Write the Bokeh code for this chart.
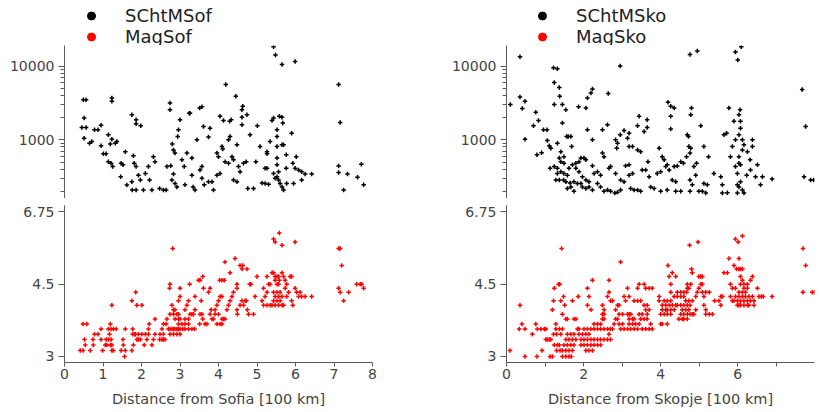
from bokeh.plotting import figure
from bokeh.layouts import row, column
from bokeh.models import Range1d, FixedTicker, Legend, LegendItem, Arrow, CustomJSTickFormatter
from bokeh.embed import file_html
from bokeh.resources import INLINE

# ---------------- data (distance in 100 km) ----------------
sof_sc_d = [0.49,0.56,0.51,0.45,0.56,0.51,0.65,0.71,0.78,0.87,
            0.95,0.95,1.01,1.08,1.14,1.23,1.19,1.23,1.23,1.14,
            1.21,1.25,1.32,1.36,1.46,1.58,1.47,1.52,1.62,1.75,
            1.75,1.86,1.86,1.98,1.79,1.81,1.86,1.92,1.76,1.86,
            2.05,1.97,2.10,2.18,2.21,2.31,2.35,2.27,2.47,2.57,
            2.64,2.66,2.76,2.74,2.74,2.80,2.83,2.87,2.79,2.87,
            2.92,2.83,2.94,2.96,3.00,3.05,3.11,3.13,3.18,3.24,
            3.26,3.31,3.31,3.34,3.39,3.44,3.51,3.57,3.61,3.52,
            3.57,3.57,3.63,3.74,3.78,3.74,3.83,3.87,3.96,4.00,
            3.96,4.04,4.04,4.13,4.09,4.11,4.17,4.26,4.19,4.26,
            4.30,4.29,4.33,4.35,4.39,4.39,4.48,4.45,4.48,4.52,
            4.56,4.65,4.72,4.61,4.63,4.61,4.61,4.74,4.82,4.76,
            4.91,5.01,4.97,5.08,5.13,5.21,5.30,5.21,5.26,5.26,
            5.26,5.34,5.39,5.43,5.43,5.48,5.52,5.52,5.52,5.52,
            5.52,5.56,5.47,5.56,5.60,5.65,5.69,5.43,5.52,5.58,
            5.65,5.67,5.65,5.65,5.69,5.76,5.76,5.77,5.90,5.93,
            5.99,6.02,5.99,6.08,6.16,6.25,5.95,6.16,6.42,7.12,
            7.16,7.12,7.12,7.25,7.35,7.61,7.71,7.77]
sof_sc_v = [3500,3500,1980,1470,1470,1050,900,950,1370,1370,
            1570,830,645,645,1170,1020,880,3700,3340,505,
            480,433,900,950,316,690,480,460,243,270,
            2190,1870,1650,1550,610,480,433,330,208,208,
            208,285,350,433,285,590,505,208,218,208,
            208,433,445,3160,2560,880,730,660,285,255,
            230,343,1110,1370,1870,535,433,245,660,2300,
            2300,330,565,230,208,1000,2700,2800,1520,390,
            433,300,245,1090,1440,270,270,208,660,590,
            330,350,2080,1830,810,750,505,480,5620,1000,
            1110,1780,1870,590,535,285,270,3900,855,433,
            370,480,505,2560,2850,2030,1600,2190,1170,218,
            218,1550,505,810,260,255,250,410,410,645,
            690,950,1830,1980,18300,14100,1110,1370,810,565,
            460,370,300,285,255,230,208,350,316,2080,
            2030,1690,10500,855,855,625,410,255,1230,480,
            11500,590,410,390,370,343,255,285,343,5620,
            1720,440,360,208,343,310,465,245]

sof_mag_d = [0.41,0.48,0.67,0.48,0.58,0.52,0.54,0.75,0.74,0.78,
             0.87,0.95,0.95,0.99,1.06,1.10,1.08,1.14,1.21,1.14,
             1.21,1.27,1.34,1.19,1.17,1.23,1.27,1.23,1.19,1.23,
             1.47,1.58,1.75,1.56,1.52,1.53,1.58,1.75,1.85,1.88,
             1.77,1.82,1.77,1.79,1.88,1.92,1.97,1.84,1.92,2.01,
             2.10,2.01,2.07,2.14,2.18,2.18,2.20,2.27,2.31,2.35,
             2.35,2.47,2.53,2.57,2.61,2.48,2.57,2.53,2.57,2.64,
             2.66,2.73,2.74,2.81,2.74,2.83,2.70,2.74,2.79,2.83,
             2.87,2.92,2.96,3.00,3.07,3.13,3.22,3.31,3.38,2.74,
             2.83,2.92,3.00,2.79,2.83,2.87,2.92,2.96,2.87,2.96,
             3.00,2.96,3.00,3.00,2.96,3.05,3.13,3.22,3.13,3.22,
             3.26,3.31,3.35,3.13,3.18,3.22,3.25,3.39,3.39,3.48,
             3.52,3.59,3.52,3.57,3.59,3.51,3.55,3.61,3.65,3.70,
             3.74,3.78,3.78,3.83,3.87,3.91,3.81,3.91,3.96,4.04,
             4.09,3.96,4.00,4.04,4.09,4.00,4.09,4.13,4.17,4.03,
             4.09,4.15,4.17,4.22,4.26,4.30,4.35,4.30,4.39,4.43,
             4.48,4.48,4.48,4.56,4.65,4.69,4.49,4.61,4.72,4.56,
             4.61,4.63,4.74,4.75,4.81,4.84,4.78,4.91,4.95,5.00,
             5.17,5.13,5.17,5.26,5.34,5.21,5.26,5.26,5.30,5.34,
             5.39,5.43,5.43,5.47,5.58,5.65,5.47,5.52,5.56,5.58,
             5.47,5.52,5.56,5.43,5.52,5.60,5.47,5.56,5.65,5.43,
             5.52,5.60,5.39,5.47,5.56,5.65,5.69,5.65,5.69,5.73,
             5.77,5.73,5.77,5.82,5.86,5.90,5.93,5.90,5.99,5.99,
             6.03,6.08,6.12,6.16,6.25,6.42,7.12,7.16,7.20,7.12,
             7.16,7.25,7.38,7.59,7.68,7.72,7.77]
sof_mag = [3.1,3.1,3.1,3.6,3.6,3.3,3.2,3.2,3.3,3.4,
           3.4,3.5,3.3,3.1,3.2,3.2,3.3,3.3,3.3,3.5,
           3.5,3.5,3.5,3.6,3.4,3.1,3.1,4.0,3.2,3.2,
           3.1,3.1,3.1,3.0,3.3,3.2,3.5,4.1,4.3,4.0,
           3.5,3.4,3.4,3.2,3.3,3.3,3.3,3.4,3.4,3.4,
           3.4,4.0,3.2,3.3,3.4,3.5,3.6,3.2,3.3,3.4,
           3.7,3.3,3.3,3.3,3.3,3.4,3.4,3.5,3.6,3.6,
           3.7,4.4,4.5,5.5,3.8,3.8,3.5,3.5,3.5,3.5,
           3.5,3.5,3.5,3.5,3.5,3.5,3.5,3.5,3.5,3.4,
           3.4,3.4,3.4,4.0,3.9,3.9,3.8,3.8,3.7,3.7,
           3.7,4.1,4.2,4.4,3.6,3.6,3.6,3.6,3.7,3.7,
           3.8,3.8,3.8,3.9,4.0,4.1,4.5,4.2,3.9,4.6,
           4.6,4.7,3.8,3.8,3.7,3.6,4.1,4.4,3.6,3.6,
           4.3,4.4,3.8,3.7,3.7,3.8,3.9,3.9,3.6,3.6,
           3.6,4.0,4.1,4.2,4.2,3.8,3.7,3.7,3.7,4.6,
           4.6,4.6,5.1,3.9,4.0,4.1,4.2,4.8,4.3,5.2,
           4.5,4.4,3.9,4.0,4.0,4.1,3.8,4.1,4.1,5.0,
           4.9,5.0,4.9,3.9,4.5,4.5,3.8,3.8,4.2,4.7,
           4.4,4.1,4.0,4.0,4.0,4.2,4.3,4.7,4.5,4.5,
           4.8,4.8,5.8,5.7,6.0,5.6,4.7,4.7,4.7,4.6,
           4.6,4.5,4.5,4.3,4.3,4.3,4.2,4.2,4.2,4.1,
           4.1,4.1,4.0,4.0,4.0,4.0,4.0,4.8,4.7,4.6,
           4.5,4.4,4.2,4.3,4.7,4.7,4.0,4.1,5.7,4.4,
           4.3,4.2,4.3,4.2,4.2,4.2,5.5,5.5,5.0,4.4,
           4.3,4.1,4.3,4.5,4.5,4.5,4.4]

sko_sc_d = [0.10,0.35,0.35,0.41,0.48,0.48,0.70,0.76,0.83,0.79,
            0.91,0.96,1.05,1.06,1.11,1.15,1.13,1.24,1.32,1.22,
            1.32,1.24,1.37,1.38,1.24,1.45,1.45,1.32,1.41,1.49,
            1.28,1.37,1.48,1.32,1.41,1.49,1.58,1.37,1.41,1.49,
            1.54,1.56,1.60,1.67,1.58,1.67,1.75,1.62,1.71,1.80,
            1.88,1.54,1.65,1.75,1.84,1.93,1.69,1.80,1.87,1.93,
            2.01,2.06,1.88,1.97,2.06,2.14,1.97,2.06,2.14,2.23,
            2.06,2.10,2.10,2.19,2.23,2.23,2.23,2.27,2.36,2.44,
            2.36,2.44,2.53,2.62,2.70,2.49,2.53,2.49,2.62,2.64,
            2.66,2.70,2.83,2.81,2.88,2.96,2.83,2.86,2.88,2.95,
            2.95,2.96,3.05,3.05,3.14,3.18,3.09,3.18,3.18,3.27,
            3.18,3.27,3.22,3.31,3.40,3.48,3.40,3.48,3.40,3.44,
            3.52,3.61,3.57,3.65,3.65,3.67,3.70,3.74,3.83,3.96,
            4.04,4.09,4.13,4.17,4.22,3.91,4.00,4.00,4.17,4.19,
            4.26,4.26,4.26,4.35,4.30,4.39,4.35,4.43,4.39,4.52,
            4.52,4.59,4.67,4.73,4.69,4.72,4.76,4.78,4.76,4.78,
            4.80,4.76,4.82,4.76,4.86,4.93,4.91,4.95,4.99,5.08,
            5.17,5.04,5.12,5.12,5.21,5.24,5.38,5.56,5.60,5.60,
            5.73,5.64,5.71,5.77,5.81,5.86,5.90,5.94,5.94,6.00,
            6.03,6.06,6.07,6.07,6.03,6.09,5.94,5.99,6.03,6.07,
            6.03,5.99,6.07,6.03,6.12,6.16,5.99,6.12,6.16,6.12,
            6.25,6.32,6.33,6.23,6.38,6.38,6.51,6.46,6.59,6.64,
            6.89,7.67,7.72,7.76,7.89,7.97]
sko_sc_v = [3000,13400,3810,2650,3330,1020,1550,2360,1830,625,
            670,1370,1370,980,830,770,410,433,410,9500,
            9200,6000,5100,3900,3000,1690,3000,900,690,590,
            285,285,285,350,370,350,330,565,505,480,
            2560,1110,1110,1110,218,230,200,410,460,480,
            505,270,260,270,255,255,810,410,2800,565,
            565,535,370,316,285,270,230,218,230,208,
            2700,1370,3700,4300,4900,1000,445,350,370,330,
            255,230,200,208,200,660,590,1370,1600,4250,
            410,433,350,190,195,208,1000,770,900,1170,
            10000,285,270,1340,1050,1230,445,460,330,350,
            810,810,218,208,208,200,730,690,1550,2080,
            390,390,1300,1470,1870,505,316,230,218,770,
            590,535,433,460,390,350,370,200,208,3230,
            1400,2080,2850,2700,285,270,433,440,200,200,
            505,480,590,810,1170,1110,14300,770,660,2190,
            2700,285,245,200,433,480,330,16000,200,200,
            190,1550,810,255,245,590,350,316,245,190,
            192,1170,1230,2700,590,810,1780,1000,15500,12100,
            2190,2560,1780,1440,1170,18300,433,350,480,460,
            590,245,270,230,208,190,190,730,855,1000,
            690,535,390,330,810,1000,460,316,245,316,
            295,4800,316,1520,285,285]

sko_mag_d = [0.09,0.35,0.33,0.40,0.48,0.48,0.67,0.76,0.79,0.80,
             0.89,0.92,0.98,1.02,1.02,1.06,1.11,1.15,1.13,1.19,
             1.19,1.24,1.22,1.28,1.24,1.32,1.37,1.22,1.30,1.41,
             1.28,1.37,1.45,1.30,1.39,1.45,1.35,1.38,1.43,1.45,
             1.54,1.58,1.41,1.48,1.51,1.45,1.54,1.62,1.68,1.54,
             1.62,1.71,1.80,1.49,1.58,1.67,1.75,1.54,1.62,1.71,
             1.58,1.67,1.75,1.71,1.75,1.80,1.86,1.84,1.88,1.88,
             1.97,2.06,2.14,1.93,2.01,2.10,2.19,2.27,2.36,2.44,
             2.53,2.62,2.70,1.93,2.01,2.10,2.19,2.27,2.36,2.44,
             2.01,2.10,2.19,2.27,2.36,2.44,2.53,2.62,2.10,2.14,
             2.10,2.19,2.06,2.14,2.23,2.23,2.27,2.36,2.44,2.49,
             2.53,2.49,2.53,2.49,2.53,2.62,2.66,2.66,2.66,2.69,
             2.75,2.70,2.75,2.83,2.88,2.92,2.79,2.92,3.01,2.83,
             2.88,2.92,3.01,2.96,2.96,3.05,3.14,3.22,3.31,3.40,
             3.05,3.09,3.18,3.14,3.14,3.18,3.22,3.18,3.27,3.31,
             3.18,3.27,3.35,3.44,3.31,3.40,3.48,3.40,3.44,3.57,
             3.61,3.70,3.78,3.44,3.52,3.61,3.65,3.48,3.57,3.65,
             3.52,3.61,3.70,3.78,3.57,3.65,3.70,3.74,3.96,3.96,
             4.00,4.04,4.17,4.00,4.09,4.17,4.26,4.04,4.13,4.22,
             4.30,4.39,4.43,4.04,4.13,4.17,4.26,4.35,4.09,4.17,
             4.26,4.19,4.22,4.26,4.26,4.30,4.39,4.35,4.43,4.52,
             4.60,4.43,4.52,4.60,4.67,4.47,4.56,4.60,4.69,4.52,
             4.60,4.69,4.76,4.52,4.60,4.69,4.76,4.56,4.65,4.73,
             4.65,4.73,4.82,4.69,4.73,4.69,4.78,4.75,4.80,4.82,
             4.82,4.86,4.91,4.91,4.95,4.99,4.97,4.99,5.04,5.08,
             5.04,5.08,5.08,5.17,5.12,5.17,5.17,5.26,5.34,5.26,
             5.12,5.40,5.51,5.56,5.56,5.60,5.64,5.73,5.77,5.81,
             5.86,5.90,5.94,5.81,5.86,5.94,5.90,5.97,5.94,6.01,
             6.03,6.03,6.07,6.12,6.07,6.12,6.12,5.99,6.03,6.07,
             6.16,6.25,6.29,5.99,6.07,6.16,6.25,6.33,6.42,6.03,
             6.12,6.20,6.29,6.38,6.03,6.12,6.20,6.07,6.16,6.25,
             6.16,6.25,6.33,6.38,6.42,6.51,6.55,6.61,6.66,6.89,
             7.69,7.76,7.69,7.93,7.99]
sko_mag = [3.1,4.0,3.5,3.6,3.5,3.0,3.4,3.6,3.0,3.5,
           3.5,3.1,3.5,3.5,3.3,3.3,3.3,3.3,3.0,3.0,
           3.9,4.4,4.1,3.6,3.2,3.2,3.2,3.4,3.4,3.4,
           3.5,3.5,3.5,3.1,3.1,3.1,4.5,4.5,5.5,3.8,
           3.7,3.7,4.1,4.2,4.0,3.0,3.0,3.0,3.0,3.3,
           3.3,3.3,3.3,3.2,3.2,3.2,3.2,3.1,3.1,3.1,
           3.4,3.4,3.4,4.1,3.7,3.7,4.2,3.5,3.5,3.4,
           3.4,3.4,3.4,3.3,3.3,3.3,3.3,3.3,3.3,3.3,
           3.3,3.3,3.3,3.2,3.2,3.2,3.2,3.2,3.2,3.2,
           3.5,3.5,3.5,3.5,3.5,3.5,3.5,3.5,4.0,4.2,
           4.4,3.9,3.1,3.1,3.1,4.6,3.6,3.6,3.6,3.7,
           3.7,3.8,3.8,4.0,3.9,4.2,4.6,4.3,3.4,3.5,
           3.5,4.1,4.1,3.9,4.0,4.0,3.6,3.6,3.6,3.7,
           3.7,3.8,3.8,5.1,3.5,3.5,3.5,3.5,3.5,3.5,
           4.2,4.1,4.2,4.4,3.8,3.8,3.8,3.7,3.7,3.7,
           3.6,3.6,3.6,3.6,4.1,4.1,4.1,4.4,4.5,4.5,
           4.4,4.4,4.4,3.8,3.8,3.9,3.8,3.7,3.7,3.7,
           3.5,3.5,3.5,3.5,4.0,4.0,3.9,3.6,4.2,4.1,
           3.6,3.6,3.6,3.8,3.8,3.8,3.8,4.0,4.0,4.0,
           4.0,4.0,4.0,3.9,3.9,3.9,3.9,3.9,4.1,4.1,
           4.1,5.0,4.7,4.5,4.3,4.8,4.7,4.2,4.2,4.2,
           4.2,4.3,4.3,4.3,4.3,3.7,3.7,3.7,3.7,3.8,
           3.8,3.8,3.8,4.0,4.0,4.0,4.0,3.9,3.9,3.9,
           4.1,4.1,4.1,4.4,4.4,4.5,4.5,5.6,4.9,4.8,
           3.8,3.8,3.9,4.2,4.3,4.4,5.7,4.7,4.7,4.7,
           4.5,4.5,4.3,4.3,4.0,3.9,3.8,3.8,3.8,4.3,
           4.2,4.1,4.1,4.0,4.2,4.2,4.8,4.8,5.2,4.2,
           4.1,4.1,4.2,4.5,4.4,4.4,5.0,4.9,5.8,5.7,
           5.2,4.9,4.9,4.9,4.7,4.6,5.9,4.0,4.0,4.0,
           4.0,4.0,4.0,4.1,4.1,4.1,4.1,4.1,4.1,4.2,
           4.2,4.2,4.2,4.2,4.3,4.3,4.3,4.5,4.5,4.5,
           4.4,4.4,4.6,4.7,4.0,4.4,4.2,4.2,4.2,4.2,
           5.5,5.0,4.3,4.3,4.3]

sc_ticks = [1000, 10000]
sc_minor = [200, 300, 400, 500, 600, 700, 800, 900,
            2000, 3000, 4000, 5000, 6000, 7000, 8000, 9000]
mag_ticks = [3, 4.5, 6.75]
sof_xticks = [0, 1, 2, 3, 4, 5, 6, 7, 8]
sof_xminor = []
sko_xticks = [0, 2, 4, 6, 8]
sko_xminor = [1, 3, 5, 7]

FONT = "DejaVu Sans"
AXC = "#5a5a5a"
TXC = "#444444"
FMT = CustomJSTickFormatter(code="return tick.toString()")


def style_axis(ax):
    ax.axis_line_color = AXC
    ax.major_tick_line_color = AXC
    ax.minor_tick_line_color = AXC
    ax.major_tick_in = 0
    ax.minor_tick_in = 0
    ax.major_label_text_font = FONT
    ax.major_label_text_font_size = "14px"
    ax.major_label_text_color = TXC


def panel(sc_d, sc_v, mg_d, mg_v, sc_name, mg_name, xlabel, xt, xm,
          width, bl, br, leg_x, x_end):
    xr = Range1d(0, x_end)

    # legend strip above the plot
    lf = figure(width=width, height=45, output_backend="svg", toolbar_location=None,
                x_range=Range1d(0, 8), y_range=Range1d(0, 1),
                x_axis_location=None, y_axis_location=None,
                min_border_left=0, min_border_right=0, min_border_top=0, min_border_bottom=0)
    lf.grid.visible = False
    lf.outline_line_color = None
    # swatches: a real point of each series drawn as a dot (outside this strip's range)
    l1 = lf.scatter(sc_d[:1], sc_v[:1], marker="circle", size=5, color="black")
    l2 = lf.scatter(mg_d[:1], mg_v[:1], marker="circle", size=5, color="red")
    leg = Legend(items=[LegendItem(label=sc_name, renderers=[l1]),
                        LegendItem(label=mg_name, renderers=[l2])],
                 location=(leg_x, -1.5), orientation="vertical",
                 padding=0, margin=0, spacing=0, label_height=21, glyph_height=21,
                 glyph_width=20, label_standoff=24,
                 label_text_font=FONT, label_text_font_size="18px",
                 label_text_color="#222222",
                 background_fill_alpha=0, border_line_alpha=0)
    lf.add_layout(leg)

    top = figure(width=width, height=153, output_backend="svg", toolbar_location=None,
                 x_range=xr, y_range=Range1d(160, 19000), y_axis_type="log",
                 x_axis_location=None, min_border_left=bl, min_border_right=br,
                 min_border_top=0, min_border_bottom=0)
    top.grid.visible = False
    top.outline_line_color = None
    top.scatter(sc_d, sc_v, marker="cross", size=4.5, line_width=1.5, color="black")
    ya = top.yaxis[0]
    style_axis(ya)
    ya.ticker = FixedTicker(ticks=sc_ticks, minor_ticks=sc_minor)
    ya.formatter = FMT
    ya.major_tick_out = 6
    ya.minor_tick_out = 4
    ya.major_label_standoff = 4

    bot = figure(width=width, height=214, output_backend="svg", toolbar_location=None,
                 x_range=xr, y_range=Range1d(2.9, 7.0), y_axis_type="log",
                 min_border_left=bl, min_border_right=br,
                 min_border_top=7, min_border_bottom=50)
    bot.grid.visible = False
    bot.outline_line_color = None
    bot.scatter(mg_d, mg_v, marker="cross", size=4.5, line_width=1.5, color="red")

    yb = bot.yaxis[0]
    style_axis(yb)
    yb.ticker = FixedTicker(ticks=mag_ticks, minor_ticks=[])
    yb.formatter = FMT
    yb.major_tick_out = 6
    yb.major_label_standoff = 4
    xa = bot.xaxis[0]
    style_axis(xa)
    xa.ticker = FixedTicker(ticks=xt, minor_ticks=xm)
    xa.formatter = FMT
    xa.major_tick_out = 4
    xa.minor_tick_out = 4
    xa.major_label_standoff = 2
    xa.axis_label = xlabel
    xa.axis_label_text_font = FONT
    xa.axis_label_text_font_size = "14.5px"
    xa.axis_label_text_font_style = "normal"
    xa.axis_label_text_color = TXC
    xa.axis_label_standoff = 9

    for yoff in (0, 4):
        bot.add_layout(Arrow(end=None, x_start=-4.3, y_start=159 - yoff,
                             x_end=4.7, y_end=163.5 - yoff,
                             start_units="screen", end_units="screen",
                             line_color=AXC, line_width=1))
    return lf, top, bot


f1, t1, b1 = panel(sof_sc_d, sof_sc_v, sof_mag_d, sof_mag, "SChtMSof", "MagSof",
                   "Distance from Sofia [100 km]", sof_xticks, sof_xminor,
                   410, 64, 38, 81, 8)
f2, t2, b2 = panel(sko_sc_d, sko_sc_v, sko_mag_d, sko_mag, "SChtMSko", "MagSko",
                   "Distance from Skopje [100 km]", sko_xticks, sko_xminor,
                   409, 96, 5, 122, 7.99)

layout = column(row(f1, f2), row(t1, t2), row(b1, b2))
open("out.html", "w").write(file_html(layout, INLINE))
